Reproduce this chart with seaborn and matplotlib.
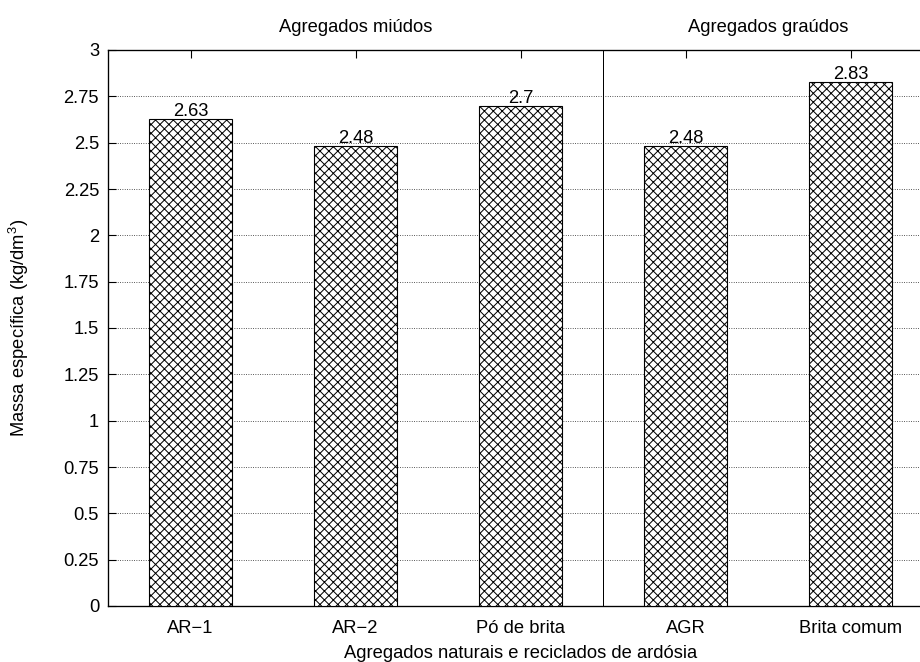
import matplotlib
matplotlib.use("Agg")
import matplotlib.pyplot as plt
import matplotlib.transforms as mtransforms
import seaborn as sns
import pandas as pd

categories = ["AR\u22121", "AR\u22122", "Pó de brita", "AGR", "Brita comum"]
values = [2.63, 2.48, 2.70, 2.48, 2.83]
group_labels = ["Agregados miúdos", "Agregados graúdos"]
group_centers = [1.0, 3.5]
yticks = [0, 0.25, 0.5, 0.75, 1, 1.25, 1.5, 1.75, 2, 2.25, 2.5, 2.75, 3]
ytick_labels = ["0", "0.25", "0.5", "0.75", "1", "1.25", "1.5", "1.75", "2", "2.25", "2.5", "2.75", "3"]

sns.set_style("white")
plt.rcParams["font.family"] = ["Liberation Sans", "DejaVu Sans"]
plt.rcParams["mathtext.default"] = "regular"
plt.rcParams["hatch.linewidth"] = 0.9
plt.rcParams["text.color"] = "black"
plt.rcParams["axes.labelcolor"] = "black"
plt.rcParams["xtick.color"] = "black"
plt.rcParams["ytick.color"] = "black"

FS = 16.5
DPI = 80
fig = plt.figure(figsize=(920 / DPI, 662 / DPI), dpi=DPI)
ax = fig.add_axes([108 / 920, 56 / 662, (933 - 108) / 920, 556 / 662])

df = pd.DataFrame({"cat": categories, "val": values})
sns.barplot(data=df, x="cat", y="val", color="white", edgecolor="black",
            linewidth=1.0, width=0.5, ax=ax, zorder=3, saturation=1)
for p in ax.patches:
    p.set_hatch("xxx")
    p.set_facecolor("white")
    p.set_edgecolor("black")

for c in ax.containers:
    ax.bar_label(c, fmt="%g", padding=-1, fontsize=FS, color="black")

ax.set_xlim(-0.5, 4.5)
ax.set_ylim(0, 3)
ax.set_yticks(yticks)
ax.set_yticklabels(ytick_labels)
ax.grid(axis="y", linestyle=(0, (1, 2)), color="black", linewidth=0.7, zorder=0)
ax.set_axisbelow(True)

ax.axvline(2.5, color="black", linewidth=0.9, zorder=4)

ax.tick_params(axis="y", direction="in", length=7, width=1, left=True, right=False,
               labelsize=FS, pad=8, colors="black")
ax.tick_params(axis="x", direction="in", length=7, width=1, top=True, bottom=False,
               labelsize=FS, pad=13, colors="black")

for s in ["left", "bottom", "top", "right"]:
    ax.spines[s].set_color("black")
    ax.spines[s].set_linewidth(1.2)
    ax.spines[s].set_visible(True)

ax.set_xlabel("Agregados naturais e reciclados de ardósia", fontsize=FS, labelpad=6.5)
ax.set_ylabel("Massa específica (kg/dm$^{3}$)", fontsize=FS, labelpad=29)

trans = mtransforms.blended_transform_factory(ax.transData, ax.transAxes)
for lab, xc in zip(group_labels, group_centers):
    ax.text(xc, 1.04, lab, transform=trans, ha="center", va="center", fontsize=FS)

fig.savefig("out.png", dpi=DPI)
